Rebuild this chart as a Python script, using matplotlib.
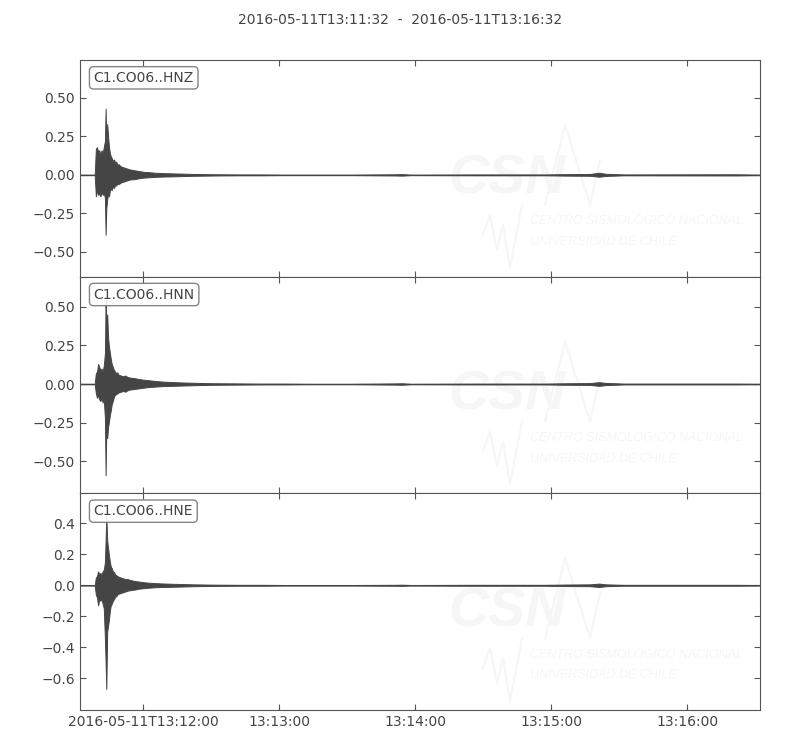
import numpy as np
import matplotlib
matplotlib.use('Agg')
import matplotlib.pyplot as plt


# trace names and time window (seconds after 2016-05-11T13:11:32)
labels = ['C1.CO06..HNZ', 'C1.CO06..HNN', 'C1.CO06..HNE']
title = '2016-05-11T13:11:32  -  2016-05-11T13:16:32'
tick_secs = [28, 88, 148, 208, 268]
tick_labels = ['2016-05-11T13:12:00', '13:13:00', '13:14:00', '13:15:00', '13:16:00']

# envelope sample times (s)
t_env = [0.0, 6.5, 7.0, 7.5, 8.0, 8.5, 9.0, 9.5, 10.0, 10.5,
         11.0, 11.3, 11.6, 12.0, 12.4, 12.8, 13.2, 13.6, 14.0, 14.5,
         15.0, 15.5, 16.0, 16.5, 17.0, 18.0, 19.0, 20.0, 21.0, 22.0,
         24.0, 26.0, 28.0, 30.0, 33.0, 36.0, 40.0, 45.0, 50.0, 55.0,
         60.0, 70.0, 80.0, 90.0, 100.0, 110.0, 120.0, 139.0, 142.0, 146.0,
         173.0, 182.0, 205.0, 215.0, 225.0, 229.0, 232.0, 240.0, 289.0, 300.0]

# upper / lower envelope of each trace
hnz_up = [0.002, 0.002, 0.17, 0.18, 0.15, 0.16, 0.13, 0.16, 0.14, 0.18,
          0.22, 0.43, 0.20, 0.33, 0.25, 0.18, 0.14, 0.12, 0.11, 0.09,
          0.10, 0.08, 0.085, 0.065, 0.07, 0.055, 0.05, 0.045, 0.04, 0.035,
          0.03, 0.025, 0.02, 0.018, 0.014, 0.012, 0.01, 0.008, 0.006, 0.005,
          0.004, 0.003, 0.003, 0.002, 0.002, 0.002, 0.002, 0.004, 0.005, 0.002,
          0.003, 0.003, 0.003, 0.005, 0.006, 0.014, 0.007, 0.003, 0.004, 0.002]
hnz_lo = [-0.002, -0.002, -0.14, -0.10, -0.13, -0.12, -0.14, -0.11, -0.13, -0.12,
          -0.15, -0.39, -0.22, -0.16, -0.12, -0.14, -0.10, -0.09, -0.10, -0.075,
          -0.085, -0.065, -0.07, -0.055, -0.06, -0.05, -0.045, -0.04, -0.035, -0.03,
          -0.028, -0.022, -0.018, -0.016, -0.013, -0.011, -0.01, -0.008, -0.006, -0.005,
          -0.004, -0.003, -0.003, -0.002, -0.002, -0.002, -0.002, -0.004, -0.005, -0.002,
          -0.003, -0.003, -0.003, -0.005, -0.006, -0.012, -0.007, -0.003, -0.004, -0.002]

hnn_up = [0.002, 0.002, 0.07, 0.08, 0.13, 0.11, 0.09, 0.10, 0.08, 0.12,
          0.20, 0.55, 0.40, 0.45, 0.30, 0.24, 0.20, 0.16, 0.13, 0.11,
          0.09, 0.08, 0.07, 0.075, 0.06, 0.055, 0.05, 0.055, 0.045, 0.042,
          0.038, 0.032, 0.028, 0.025, 0.02, 0.016, 0.013, 0.01, 0.008, 0.006,
          0.005, 0.004, 0.003, 0.003, 0.002, 0.002, 0.002, 0.004, 0.005, 0.002,
          0.003, 0.003, 0.003, 0.005, 0.006, 0.012, 0.007, 0.003, 0.003, 0.002]
hnn_lo = [-0.002, -0.002, -0.06, -0.09, -0.07, -0.10, -0.11, -0.09, -0.12, -0.10,
          -0.22, -0.59, -0.30, -0.35, -0.28, -0.24, -0.20, -0.17, -0.13, -0.11,
          -0.08, -0.07, -0.065, -0.06, -0.055, -0.05, -0.045, -0.05, -0.04, -0.036,
          -0.032, -0.028, -0.024, -0.02, -0.017, -0.014, -0.012, -0.01, -0.008, -0.006,
          -0.005, -0.004, -0.003, -0.003, -0.002, -0.002, -0.002, -0.004, -0.005, -0.002,
          -0.003, -0.003, -0.003, -0.005, -0.006, -0.012, -0.007, -0.003, -0.003, -0.002]

hne_up = [0.002, 0.002, 0.05, 0.06, 0.09, 0.07, 0.08, 0.07, 0.09, 0.10,
          0.15, 0.29, 0.45, 0.29, 0.24, 0.19, 0.15, 0.12, 0.11, 0.09,
          0.085, 0.07, 0.065, 0.06, 0.055, 0.05, 0.045, 0.04, 0.04, 0.035,
          0.028, 0.024, 0.02, 0.017, 0.014, 0.012, 0.01, 0.008, 0.006, 0.005,
          0.004, 0.003, 0.003, 0.002, 0.002, 0.002, 0.002, 0.003, 0.004, 0.002,
          0.003, 0.003, 0.003, 0.005, 0.006, 0.011, 0.006, 0.003, 0.003, 0.002]
hne_lo = [-0.002, -0.002, -0.06, -0.08, -0.13, -0.09, -0.10, -0.09, -0.12, -0.15,
          -0.35, -0.50, -0.67, -0.30, -0.26, -0.22, -0.16, -0.13, -0.12, -0.10,
          -0.09, -0.075, -0.07, -0.06, -0.055, -0.05, -0.045, -0.04, -0.035, -0.032,
          -0.028, -0.022, -0.019, -0.016, -0.013, -0.011, -0.01, -0.008, -0.006, -0.005,
          -0.004, -0.003, -0.003, -0.002, -0.002, -0.002, -0.002, -0.003, -0.004, -0.002,
          -0.003, -0.003, -0.003, -0.005, -0.006, -0.011, -0.006, -0.003, -0.003, -0.002]

uppers = [hnz_up, hnn_up, hne_up]
lowers = [hnz_lo, hnn_lo, hne_lo]
ylims = [(-0.662, 0.747), (-0.708, 0.695), (-0.806, 0.594)]
yticks = [[-0.5, -0.25, 0.0, 0.25, 0.5],
          [-0.5, -0.25, 0.0, 0.25, 0.5],
          [-0.6, -0.4, -0.2, 0.0, 0.2, 0.4]]
yfmt = ['%.2f', '%.2f', '%.1f']

wave_c = '#454545'
text_c = '#444444'
mark_c = '#f6f6f6'

fig, axes = plt.subplots(3, 1, sharex=True, figsize=(8, 7.5), dpi=100)
fig.subplots_adjust(left=0.1, right=0.95, top=0.92, bottom=0.0533, hspace=0)

for i, ax in enumerate(axes):
    # faint CSN watermark
    ax.text(0.628, 0.45, 'CSN', transform=ax.transAxes, ha='center', va='center',
            fontsize=40, fontweight='bold', fontstyle='italic', color=mark_c,
            family='Liberation Sans', zorder=0, clip_on=True)
    ax.text(0.662, 0.255, 'CENTRO SISMOLÓGICO NACIONAL', transform=ax.transAxes,
            ha='left', va='center', fontsize=9, fontstyle='italic', color=mark_c,
            family='Liberation Sans', zorder=0, clip_on=True)
    ax.text(0.662, 0.16, 'UNIVERSIDAD DE CHILE', transform=ax.transAxes,
            ha='left', va='center', fontsize=9, fontstyle='italic', color=mark_c,
            family='Liberation Sans', zorder=0, clip_on=True)
    wx = (np.array([483, 490, 497, 503, 510, 522]) - 80) / 680.
    wy = 1 - (np.array([235, 215, 250, 225, 268, 205]) - 60) / 217.
    ax.plot(wx, wy, color=mark_c, lw=1.5, transform=ax.transAxes, zorder=0)
    sx = (np.array([545, 565, 590, 600]) - 80) / 680.
    sy = 1 - (np.array([205, 125, 205, 160]) - 60) / 217.
    ax.plot(sx, sy, color=mark_c, lw=1.5, transform=ax.transAxes, zorder=0)

    ax.fill_between(t_env, lowers[i], uppers[i], color=wave_c, edgecolor=wave_c,
                    linewidth=0.7, zorder=2)

    ax.set_xlim(0, 300)
    ax.set_ylim(ylims[i])
    ax.set_yticks(yticks[i])
    ax.set_yticklabels([(yfmt[i] % v).replace('-', '\u2212') for v in yticks[i]])

    ax.text(0.02, 0.95, labels[i], transform=ax.transAxes, ha='left', va='top',
            fontsize=10, color=text_c, zorder=5,
            bbox=dict(boxstyle='round', fc='w', ec='#777777', alpha=0.9))

    ax.tick_params(direction='in', top=True, right=True, length=4.5,
                   colors='#555555', labelcolor=text_c, labelsize=10)
    for s in ax.spines.values():
        s.set_color('#555555')

axes[-1].set_xticks(tick_secs)
axes[-1].set_xticklabels(tick_labels)

fig.suptitle(title, y=0.973, va='center', fontsize=10, color=text_c)

fig.savefig('out.png', dpi=100)
